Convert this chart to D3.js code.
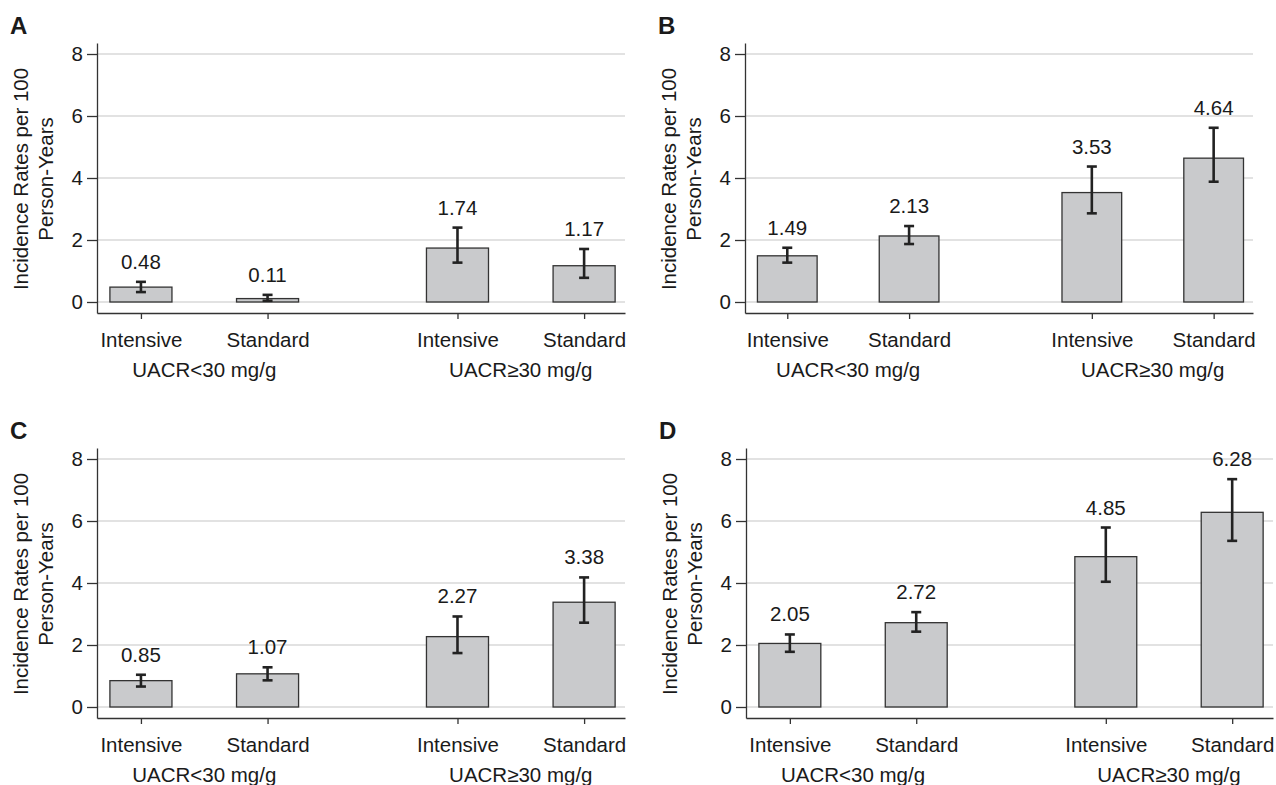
<!DOCTYPE html>
<html>
<head>
<meta charset="utf-8">
<script src="https://cdn.jsdelivr.net/npm/d3@7"></script>
<style>
  body { margin: 0; background: #fff; }
  text { font-family: "Liberation Sans", Arial, Helvetica, sans-serif; fill: #1a1a1a; }
</style>
</head>
<body>
<svg id="chart" width="1276" height="785"></svg>
<script>
// data
var panelLetters = ["A", "B", "C", "D"];
var armLabels = ["Intensive", "Standard", "Intensive", "Standard"];
var armGroup = [0, 0, 1, 1];
var groupLabels = ["UACR<30 mg/g", "UACR\u226530 mg/g"];
var yTicks = [0, 2, 4, 6, 8];

var ratesA = [0.48, 0.11, 1.74, 1.17];
var lowerA = [0.32, 0.04, 1.27, 0.78];
var upperA = [0.65, 0.23, 2.40, 1.71];

var ratesB = [1.49, 2.13, 3.53, 4.64];
var lowerB = [1.27, 1.87, 2.86, 3.88];
var upperB = [1.75, 2.45, 4.37, 5.62];

var ratesC = [0.85, 1.07, 2.27, 3.38];
var lowerC = [0.66, 0.86, 1.74, 2.72];
var upperC = [1.04, 1.28, 2.92, 4.18];

var ratesD = [2.05, 2.72, 4.85, 6.28];
var lowerD = [1.78, 2.43, 4.04, 5.36];
var upperD = [2.34, 3.06, 5.79, 7.35];

var panelRates = [ratesA, ratesB, ratesC, ratesD];
var panelLower = [lowerA, lowerB, lowerC, lowerD];
var panelUpper = [upperA, upperB, upperC, upperD];

// pixel frame of each panel's plot area (axis lines)
var frames = [
	{x0: 97,  x1: 625,  y0: 43,  y1: 313},
	{x0: 745, x1: 1253, y0: 43,  y1: 313},
	{x0: 97,  x1: 625,  y0: 448, y1: 718},
	{x0: 746, x1: 1273, y0: 448, y1: 718}
];

var fontSize = "20.5px";
var svg = d3.select("#chart");

panelLetters.forEach(function (letter, p) {
	var f = frames[p];
	var rates = panelRates[p], lo = panelLower[p], hi = panelUpper[p];

	var data = rates.map(function (v, i) {
		return { label: armLabels[i], pos: i + 1 + armGroup[i] * 0.5, v: v, lo: lo[i], hi: hi[i] };
	});

	var x = d3.scaleLinear().domain([0.653, 4.823]).range([f.x0, f.x1]);
	var y = d3.scaleLinear().domain([-0.355, 8.355]).range([f.y1, f.y0]);
	var bw = x(1.49) - x(1);

	var g = svg.append("g");

	// panel letter
	g.append("text")
		.attr("x", f.x0 - 87)
		.attr("y", f.y0 - 9)
		.style("font-size", "24px")
		.style("font-weight", "bold")
		.text(letter);

	// gridlines
	g.append("g").selectAll("line")
		.data(yTicks)
		.enter().append("line")
		.attr("x1", f.x0 + 1)
		.attr("x2", f.x1)
		.attr("y1", function (d) { return y(d); })
		.attr("y2", function (d) { return y(d); })
		.style("stroke", "#d9d9d9")
		.style("stroke-width", 1.5);

	// bars
	g.append("g").selectAll("rect")
		.data(data)
		.enter().append("rect")
		.attr("x", function (d) { return x(d.pos) - bw / 2; })
		.attr("width", bw)
		.attr("y", function (d) { return y(d.v); })
		.attr("height", function (d) { return y(0) - y(d.v); })
		.style("fill", "#c9cacc")
		.style("stroke", "#333")
		.style("stroke-width", 1.3);

	// error bars
	var eb = g.append("g").selectAll("g")
		.data(data)
		.enter().append("g")
		.style("stroke", "#222")
		.style("stroke-width", 2.6);
	eb.append("line")
		.attr("x1", function (d) { return x(d.pos); })
		.attr("x2", function (d) { return x(d.pos); })
		.attr("y1", function (d) { return y(d.lo); })
		.attr("y2", function (d) { return y(d.hi); });
	eb.append("line")
		.attr("x1", function (d) { return x(d.pos) - 5; })
		.attr("x2", function (d) { return x(d.pos) + 5; })
		.attr("y1", function (d) { return y(d.lo); })
		.attr("y2", function (d) { return y(d.lo); });
	eb.append("line")
		.attr("x1", function (d) { return x(d.pos) - 5; })
		.attr("x2", function (d) { return x(d.pos) + 5; })
		.attr("y1", function (d) { return y(d.hi); })
		.attr("y2", function (d) { return y(d.hi); });

	// value labels
	g.append("g").selectAll("text")
		.data(data)
		.enter().append("text")
		.attr("x", function (d) { return x(d.pos); })
		.attr("y", function (d) { return y(d.hi) - 13; })
		.attr("text-anchor", "middle")
		.style("font-size", fontSize)
		.text(function (d) { return d.v.toFixed(2); });

	// y axis
	var yAxis = g.append("g")
		.attr("transform", "translate(" + f.x0 + ",0)")
		.call(d3.axisLeft(y).tickValues(yTicks).tickSize(10).tickSizeOuter(0).tickPadding(4));
	// x axis
	var xAxis = g.append("g")
		.attr("transform", "translate(0," + f.y1 + ")")
		.call(d3.axisBottom(x).tickValues(data.map(function (d) { return d.pos; }))
			.tickFormat(function (d, i) { return armLabels[i]; })
			.tickSize(6).tickSizeOuter(0).tickPadding(13));

	[yAxis, xAxis].forEach(function (a) {
		a.selectAll("path, line").style("stroke", "#333").style("stroke-width", 1.3);
		a.selectAll("text").style("font-size", fontSize).style("fill", "#1a1a1a")
			.style("font-family", "'Liberation Sans', Arial, Helvetica, sans-serif");
	});

	// group labels
	g.append("g").selectAll("text")
		.data(groupLabels)
		.enter().append("text")
		.attr("x", function (d, i) { return (x(1 + i * 2.5) + x(2 + i * 2.5)) / 2; })
		.attr("y", f.y1 + 64)
		.attr("text-anchor", "middle")
		.style("font-size", fontSize)
		.text(function (d) { return d; });

	// y axis title, two lines
	var cy = (f.y0 + f.y1) / 2 + 1;
	var yt = g.append("text")
		.attr("transform", "translate(" + (f.x0 - 69) + "," + cy + ") rotate(-90)")
		.attr("text-anchor", "middle")
		.style("font-size", fontSize);
	yt.append("tspan").attr("x", 0).attr("y", 0).text("Incidence Rates per 100");
	yt.append("tspan").attr("x", 0).attr("y", 24.5).text("Person-Years");
});
</script>
</body>
</html>
